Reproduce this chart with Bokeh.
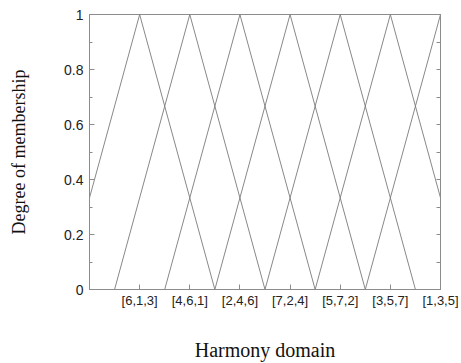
from bokeh.plotting import figure
from bokeh.models import FixedTicker, LinearAxis, Range1d
from bokeh.embed import file_html
from bokeh.resources import INLINE

# ---- data ----
categories = ["[6,1,3]", "[4,6,1]", "[2,4,6]", "[7,2,4]", "[5,7,2]", "[3,5,7]", "[1,3,5]"]
peaks = [1, 2, 3, 4, 5, 6, 7]
left_feet = [-0.5, 0.5, 1.5, 2.5, 3.5, 4.5, 5.5]
right_feet = [2.5, 3.5, 4.5, 5.5, 6.5, 7.5, 8.5]
membership_shape = [0, 1, 0]
y_ticks = [0, 0.2, 0.4, 0.6, 0.8, 1]
y_ticks_all = [0, 0.1, 0.2, 0.3, 0.4, 0.5, 0.6, 0.7, 0.8, 0.9, 1.0]

LINE = "#7a7a7a"
AX = "#8c8c8c"
SANS = "Liberation Sans"
SERIF = "Liberation Serif"

p = figure(width=461, height=363, output_backend="svg", toolbar_location=None,
           x_range=Range1d(0, 7), y_range=Range1d(0, 1),
           min_border_left=89, min_border_right=21, min_border_top=14, min_border_bottom=73)
p.grid.visible = False
p.outline_line_color = AX
p.outline_line_width = 1
p.background_fill_color = "white"
p.border_fill_color = "white"

for a, b, c in zip(left_feet, peaks, right_feet):
    p.line([a, b, c], membership_shape, line_color=LINE, line_width=0.9)

# bottom axis
xa = p.xaxis[0]
xa.ticker = FixedTicker(ticks=peaks)
xa.major_label_overrides = {pk: lab for pk, lab in zip(peaks, categories)}
xa.major_tick_in = 5
xa.major_tick_out = 0
xa.minor_tick_line_color = None
xa.axis_line_color = AX
xa.major_tick_line_color = AX
xa.major_label_text_font = SANS
xa.major_label_text_font_size = "13px"
xa.major_label_text_color = "#222222"
xa.major_label_standoff = 3
xa.axis_label = "Harmony domain"
xa.axis_label_text_font = SERIF
xa.axis_label_text_font_size = "20px"
xa.axis_label_text_font_style = "normal"
xa.axis_label_text_color = "#111111"
xa.axis_label_standoff = 28

# left axis
ya = p.yaxis[0]
ya.ticker = FixedTicker(ticks=y_ticks, minor_ticks=y_ticks_all)
ya.major_tick_in = 5
ya.major_tick_out = 0
ya.minor_tick_in = 3
ya.minor_tick_out = 0
ya.axis_line_color = AX
ya.major_tick_line_color = AX
ya.minor_tick_line_color = AX
ya.major_label_overrides = {0: "0", 1: "1"}
ya.major_label_text_font = SANS
ya.major_label_text_font_size = "14px"
ya.major_label_text_color = "#222222"
ya.major_label_standoff = 6
ya.axis_label = "Degree of membership"
ya.axis_label_text_font = SERIF
ya.axis_label_text_font_size = "18px"
ya.axis_label_text_font_style = "normal"
ya.axis_label_text_color = "#111111"
ya.axis_label_standoff = 32

# right axis (ticks only)
ra = LinearAxis(ticker=FixedTicker(ticks=y_ticks_all))
ra.major_tick_in = 4
ra.major_tick_out = 0
ra.minor_tick_line_color = None
ra.major_label_text_font_size = "0px"
ra.major_label_text_color = None
ra.major_label_standoff = 0
ra.axis_line_color = AX
ra.major_tick_line_color = AX
p.add_layout(ra, "right")

open("out.html", "w").write(file_html(p, INLINE))
